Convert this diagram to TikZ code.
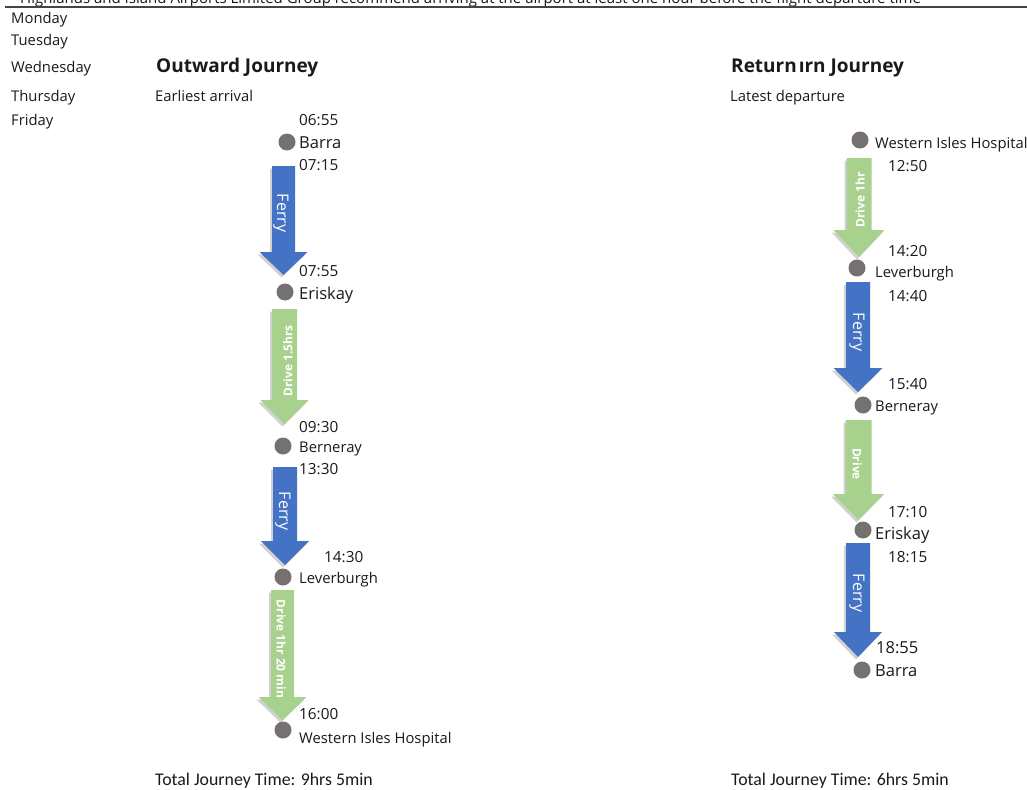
\documentclass[tikz,border=0pt]{standalone}
\usepackage{fontspec}
\setmainfont{Open Sans}
\newfontfamily\cali{Carlito}
\definecolor{ferryblue}{HTML}{4472C4}
\definecolor{drivegreen}{HTML}{A9D18E}
\definecolor{dotgray}{HTML}{767171}
\definecolor{txtc}{HTML}{1A1A1A}
\definecolor{rulec}{HTML}{444444}
\tikzset{
 txt/.style={anchor=base west, inner sep=0pt, text=txtc, font=\fontsize{14.8}{17}\selectfont},
 timec/.style={txt, font=\fontsize{15.3}{17}\selectfont},
 big/.style={txt, font=\fontsize{16.5}{19}\selectfont},
 headline/.style={txt, font=\fontsize{19}{22}\selectfont\bfseries},
 dot/.style={circle, fill=dotgray, minimum size=17pt, inner sep=0pt},
 ferrylab/.style={text=white, inner sep=0pt, font=\fontsize{16}{18}\selectfont},
 drivelab/.style={text=white, inner sep=0pt, font=\fontsize{12}{13}\selectfont\bfseries},
 total/.style={anchor=base west, inner sep=0pt, text=txtc, font=\cali\fontsize{17.8}{20}\selectfont},
}
% cx, top, headstart, tip, halfshaft, halfhead, colour
\newcommand\jarrow[7]{%
 \fill[black, opacity=.18, shift={(-2,2.5)}] ({#1-#5},#2) -- ({#1+#5},#2) -- ({#1+#5},#3) -- ({#1+#6},#3) -- (#1,#4) -- ({#1-#6},#3) -- ({#1-#5},#3) -- cycle;
 \fill[#7] ({#1-#5},#2) -- ({#1+#5},#2) -- ({#1+#5},#3) -- ({#1+#6},#3) -- (#1,#4) -- ({#1-#6},#3) -- ({#1-#5},#3) -- cycle;
}
\begin{document}
\begin{tikzpicture}[x=1pt,y=-1pt]
\useasboundingbox (0,0) rectangle (1027,789);
\fill[white] (0,0) rectangle (1027,789);
\clip (0,0) rectangle (1027,789);

% top clipped note and rule
\node[txt, font=\fontsize{15}{18}\selectfont] (note) at (20,3.5) {Highlands and Island Airports Limited Group recommend arriving at the airport at least one hour before the flight departure time};
\coordinate (ruleL) at (5,7);
\coordinate (ruleR) at (1027,7);
\draw[rulec, line width=1.5pt] (ruleL) -- (ruleR);

% days
\node[txt] (mon) at (11,24) {Monday};
\node[txt] (tue) at (11,46) {Tuesday};
\node[txt] (wed) at (11,73) {Wednesday};
\node[txt] (thu) at (11,102) {Thursday};
\node[txt] (fri) at (11,125) {Friday};

% headings
\node[headline] (outh) at (156,73) {Outward Journey};
\node[txt] (outs) at (155,102) {Earliest arrival};
\node[headline] (reth) at (731,73) {Return\hspace{2pt}ırn Journey};
\node[txt] (rets) at (730,102) {Latest departure};

% ---------- Outward ----------
\jarrow{283.5}{166}{252}{275}{11.5}{24}{ferryblue}
\node[ferrylab, rotate=-90] (oF1) at (281,213) {Ferry};
\jarrow{284.5}{309}{400}{424}{12.5}{24}{drivegreen}
\node[drivelab, rotate=90] (oD1) at (288,361) {Drive 1.5hrs};
\jarrow{285}{467}{541}{565}{12}{24}{ferryblue}
\node[ferrylab, rotate=-90] (oF2) at (283,511) {Ferry};
\jarrow{282.5}{590}{697}{720}{11.5}{24}{drivegreen}
\node[drivelab, rotate=-90] (oD2) at (281,649) {Drive 1hr 20 min};

\node[dot] (oBarra) at (287,142) {};
\node[dot] (oEriskay) at (285,292) {};
\node[dot] (oBerneray) at (283,446) {};
\node[dot] (oLever) at (283,577) {};
\node[dot] (oWIH) at (283,730) {};

\node[timec] (t0655) at (299,125) {06:55};
\node[big] (lBarra) at (299,148) {Barra};
\node[timec] (t0715) at (299,170) {07:15};
\node[timec] (t0755) at (299,276) {07:55};
\node[big] (lEriskay) at (299,299) {Eriskay};
\node[timec] (t0930) at (299,432) {09:30};
\node[txt] (lBerneray) at (299,452) {Berneray};
\node[timec] (t1330) at (299,474) {13:30};
\node[timec] (t1430) at (324,562) {14:30};
\node[txt] (lLever) at (299,583) {Leverburgh};
\node[timec] (t1600) at (299,719) {16:00};
\node[txt] (lWIH) at (299,743) {Western Isles Hospital};
\node[total] (tot1) at (155,785) {Total Journey Time: 9hrs 5min};

% ---------- Return ----------
\jarrow{859}{158}{230}{257}{12.5}{25.5}{drivegreen}
\node[drivelab, rotate=90] (rD1) at (860,200) {Drive 1hr};
\jarrow{858}{282}{368}{392}{12}{24.5}{ferryblue}
\node[ferrylab, rotate=-90] (rF1) at (857,332) {Ferry};
\jarrow{858.5}{420}{494}{520}{13}{25.5}{drivegreen}
\node[drivelab, rotate=-90] (rD2) at (857,464) {Drive};
\jarrow{858}{543}{632}{657}{12}{24}{ferryblue}
\node[ferrylab, rotate=-90] (rF2) at (857,593) {Ferry};

\node[dot] (rWIH) at (860,140) {};
\node[dot] (rLever) at (857,268) {};
\node[dot] (rBerneray) at (863,405) {};
\node[dot] (rEriskay) at (863,530) {};
\node[dot] (rBarra) at (862,670) {};

\node[txt] (lrWIH) at (875,148) {Western Isles Hospital};
\node[timec] (t1250) at (888,171) {12:50};
\node[timec] (t1420) at (888,256) {14:20};
\node[txt] (lrLever) at (875,277) {Leverburgh};
\node[timec] (t1440) at (888,301) {14:40};
\node[timec] (t1540) at (888,389) {15:40};
\node[txt] (lrBerneray) at (875,411) {Berneray};
\node[timec] (t1710) at (888,517) {17:10};
\node[big] (lrEriskay) at (875,539) {Eriskay};
\node[timec] (t1815) at (888,562) {18:15};
\node[big] (t1855) at (876,653) {18:55};
\node[big] (lrBarra) at (875,676) {Barra};
\node[total] (tot2) at (731,785) {Total Journey Time: 6hrs 5min};
\end{tikzpicture}
\end{document}
